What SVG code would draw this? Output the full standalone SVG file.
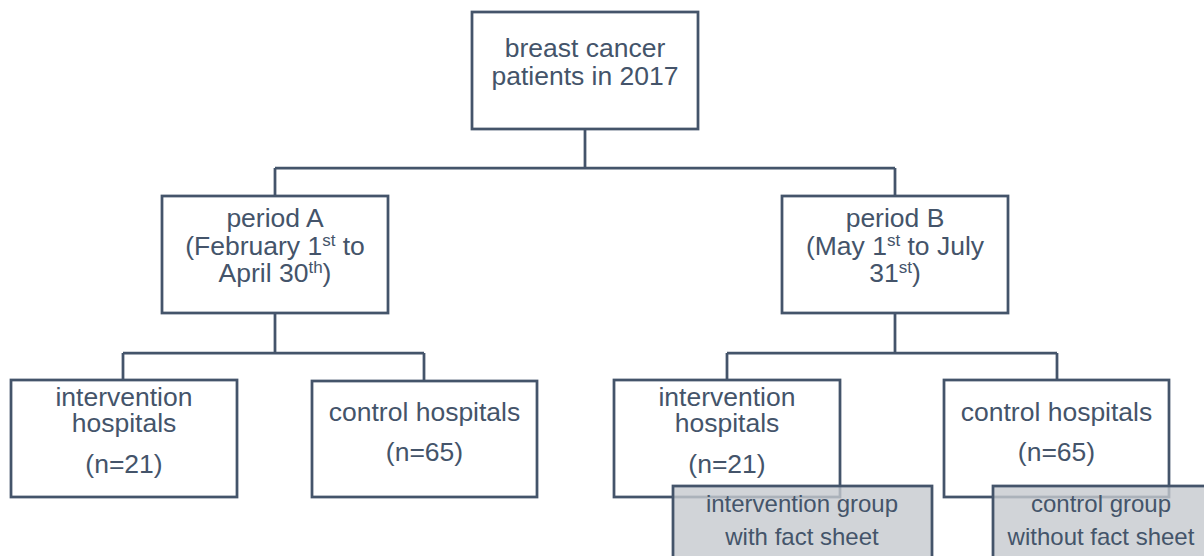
<svg xmlns="http://www.w3.org/2000/svg" width="1204" height="556" viewBox="0 0 1204 556">
  <style>
    .box { fill: #ffffff; stroke: #44546A; stroke-width: 2.75; }
    .gbox { fill: #c6c9ce; fill-opacity: 0.8; stroke: #44546A; stroke-width: 2.75; }
    .t { font-family: "Liberation Sans", Arial, sans-serif; font-size: 26.5px; fill: #44546A; text-anchor: middle; }
    .g { font-family: "Liberation Sans", Arial, sans-serif; font-size: 24px; fill: #44546A; text-anchor: middle; }
    .sup { font-size: 17px; }
    .conn { fill: none; stroke: #44546A; stroke-width: 2.75; }
  </style>
  <rect width="1204" height="556" fill="#ffffff"/>
  <g id="connectors">
    <path class="conn" d="M585 129 V168 M275 168 H895 M275 168 V196 M895 168 V196"/>
    <path class="conn" d="M275 313 V353 M123 353 H424 M123 353 V380 M424 353 V381"/>
    <path class="conn" d="M895 313 V353 M727 353 H1057 M727 353 V380 M1057 353 V380"/>
  </g>
  <g id="root">
    <rect class="box" x="472" y="12" width="226" height="117"/>
    <text class="t" x="585" y="57">breast cancer</text>
    <text class="t" x="585" y="85">patients in 2017</text>
  </g>
  <g id="periodA">
    <rect class="box" x="162" y="196" width="226" height="117"/>
    <text class="t" x="275" y="227">period A</text>
    <text class="t" x="275" y="255">(February 1<tspan class="sup" dy="-9">st</tspan><tspan dy="9"> to</tspan></text>
    <text class="t" x="275" y="282">April 30<tspan class="sup" dy="-9">th</tspan><tspan dy="9">)</tspan></text>
  </g>
  <g id="periodB">
    <rect class="box" x="782" y="196" width="226" height="117"/>
    <text class="t" x="895" y="227">period B</text>
    <text class="t" x="895" y="255">(May 1<tspan class="sup" dy="-9">st</tspan><tspan dy="9"> to July</tspan></text>
    <text class="t" x="895" y="282">31<tspan class="sup" dy="-9">st</tspan><tspan dy="9">)</tspan></text>
  </g>
  <g id="interventionA">
    <rect class="box" x="11" y="380" width="226" height="117"/>
    <text class="t" x="124" y="406">intervention</text>
    <text class="t" x="124" y="432">hospitals</text>
    <text class="t" x="124" y="473">(n=21)</text>
  </g>
  <g id="controlA">
    <rect class="box" x="312" y="381" width="225" height="116"/>
    <text class="t" x="424.5" y="421">control hospitals</text>
    <text class="t" x="424.5" y="461">(n=65)</text>
  </g>
  <g id="interventionB">
    <rect class="box" x="614" y="380" width="226" height="117"/>
    <text class="t" x="727" y="406">intervention</text>
    <text class="t" x="727" y="432">hospitals</text>
    <text class="t" x="727" y="473">(n=21)</text>
  </g>
  <g id="controlB">
    <rect class="box" x="944" y="380" width="225" height="117"/>
    <text class="t" x="1056.5" y="421">control hospitals</text>
    <text class="t" x="1056.5" y="461">(n=65)</text>
  </g>
  <g id="interventionGroup">
    <rect class="gbox" x="673" y="486" width="259" height="80"/>
    <text class="g" x="802" y="512">intervention group</text>
    <text class="g" x="802" y="545">with fact sheet</text>
  </g>
  <g id="controlGroup">
    <rect class="gbox" x="993" y="486" width="216" height="80"/>
    <text class="g" x="1101" y="512">control group</text>
    <text class="g" x="1101" y="545">without fact sheet</text>
  </g>
</svg>
